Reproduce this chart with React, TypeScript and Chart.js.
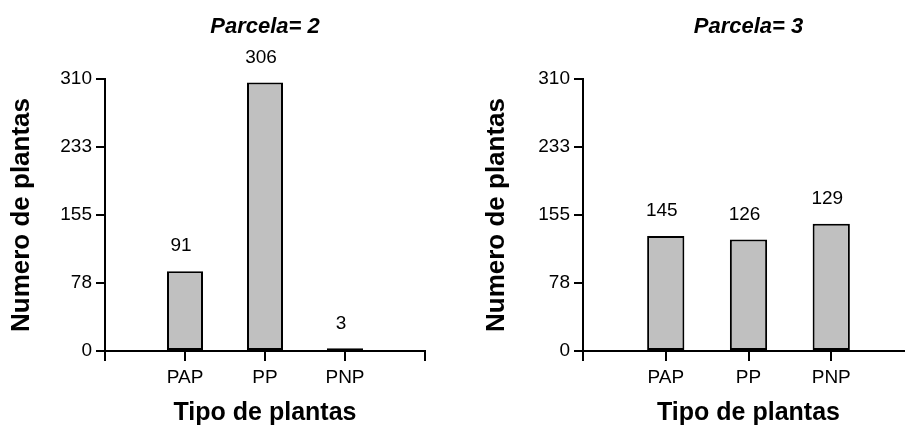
import React, { useEffect, useRef } from "react";
import { Chart, registerables } from "chart.js";

Chart.register(...registerables);

const categories = ["PAP", "PP", "PNP"];
const parcela2Values = [91, 306, 3];
const parcela2Labels = ["91", "306", "3"];
const parcela3Values = [131, 127, 145];
const parcela3Labels = ["145", "126", "129"];
const yTickValues = [0, 77.5, 155, 232.5, 310];
const yTickLabels = ["0", "78", "155", "233", "310"];
const yMax = 310;

const FONT = "'Liberation Sans', Arial, Helvetica, sans-serif";

function valueLabelPlugin(texts: string[]) {
  return {
    id: "valueLabels",
    afterDatasetsDraw(chart: any) {
      const ctx = chart.ctx;
      const meta = chart.getDatasetMeta(0);
      ctx.save();
      ctx.font = `19px ${FONT}`;
      ctx.fillStyle = "#000";
      ctx.textAlign = "center";
      ctx.textBaseline = "middle";
      let k = 0;
      meta.data.forEach((bar: any, i: number) => {
        const v = chart.data.datasets[0].data[i];
        if (v === null || v === undefined) return;
        ctx.fillText(texts[k], bar.x - 4, bar.y - 25);
        k++;
      });
      ctx.restore();
    },
  };
}

const xTickMarksPlugin = {
  id: "xTickMarks",
  afterDraw(chart: any) {
    const ctx = chart.ctx;
    const xs = chart.scales.x;
    const bottom = chart.chartArea.bottom;
    ctx.save();
    ctx.strokeStyle = "#000";
    ctx.lineWidth = 2;
    for (let i = 0; i < xs.ticks.length; i++) {
      const px = Math.round(xs.getPixelForTick(i));
      ctx.beginPath();
      ctx.moveTo(px, bottom);
      ctx.lineTo(px, bottom + 10);
      ctx.stroke();
    }
    ctx.restore();
  },
};

type PanelProps = {
  title: string;
  values: number[];
  labels: string[];
  width: number;
  left: number;
  right: number;
  yTitleCenter: number;
  x: number;
};

function Panel({ title, values, labels, width, left, right, yTitleCenter, x }: PanelProps) {
  const ref = useRef<HTMLCanvasElement>(null);
  useEffect(() => {
    const yTitleFont = 26;
    const chart = new Chart(ref.current as HTMLCanvasElement, {
      type: "bar",
      data: {
        labels: ["", ...categories, ""],
        datasets: [
          {
            data: [null, ...values, null],
            backgroundColor: "#c0c0c0",
            borderColor: "#000",
            borderWidth: 2,
            borderSkipped: false,
            categoryPercentage: 1,
            barPercentage: 0.45,
          } as any,
        ],
      },
      options: {
        responsive: false,
        animation: false,
        layout: { padding: { left: 0, right: width - right, top: 0, bottom: 0 } },
        plugins: {
          legend: { display: false },
          tooltip: { enabled: false },
          title: {
            display: true,
            text: title,
            fullSize: false,
            color: "#000",
            font: { family: FONT, size: 22, weight: "bold", style: "italic" },
            padding: { top: 13.5, bottom: 39.1 },
          },
        },
        scales: {
          x: {
            offset: false,
            grid: {
              offset: false,
              drawOnChartArea: false,
              drawTicks: true,
              tickLength: 10,
              color: "#000",
              lineWidth: 2,
            },
            border: { display: true, color: "#000", width: 2 },
            ticks: { color: "#000", font: { family: FONT, size: 19 }, padding: 5, autoSkip: false, maxRotation: 0 },
            title: {
              display: true,
              text: "Tipo de plantas",
              color: "#000",
              font: { family: FONT, size: 25, weight: "bold" },
              padding: { top: 0, bottom: 1 },
            },
            afterFit: (s: any) => {
              s.height = 78;
            },
          },
          y: {
            min: 0,
            max: yMax,
            grid: { drawOnChartArea: false, drawTicks: true, tickLength: 9, color: "#000", lineWidth: 2 },
            border: { display: true, color: "#000", width: 2 },
            afterBuildTicks: (s: any) => {
              s.ticks = yTickValues.map((v) => ({ value: v }));
            },
            ticks: {
              color: "#000",
              font: { family: FONT, size: 19 },
              padding: 4,
              callback: (_v: any, i: number) => yTickLabels[i],
            },
            title: {
              display: true,
              text: "Numero de plantas",
              color: "#000",
              font: { family: FONT, size: yTitleFont, weight: "bold" },
              padding: { top: yTitleCenter - (yTitleFont * 1.2) / 2, bottom: 0 },
            },
            afterFit: (s: any) => {
              s.width = left;
            },
          },
        },
      },
      plugins: [valueLabelPlugin(labels), xTickMarksPlugin],
    });
    return () => chart.destroy();
  }, []);
  return (
    <canvas
      ref={ref}
      width={width}
      height={429}
      style={{ position: "absolute", left: x, top: 0, display: "block" }}
    />
  );
}

export default function App() {
  return (
    <div
      style={{
        position: "absolute",
        left: 0,
        top: 0,
        width: 905,
        height: 429,
        overflow: "hidden",
        background: "#fff",
      }}
    >
      <Panel
        title="Parcela= 2"
        values={parcela2Values}
        labels={parcela2Labels}
        width={455}
        left={105}
        right={425}
        yTitleCenter={22}
        x={0}
      />
      <Panel
        title="Parcela= 3"
        values={parcela3Values}
        labels={parcela3Labels}
        width={466}
        left={128}
        right={459}
        yTitleCenter={42}
        x={455}
      />
    </div>
  );
}
